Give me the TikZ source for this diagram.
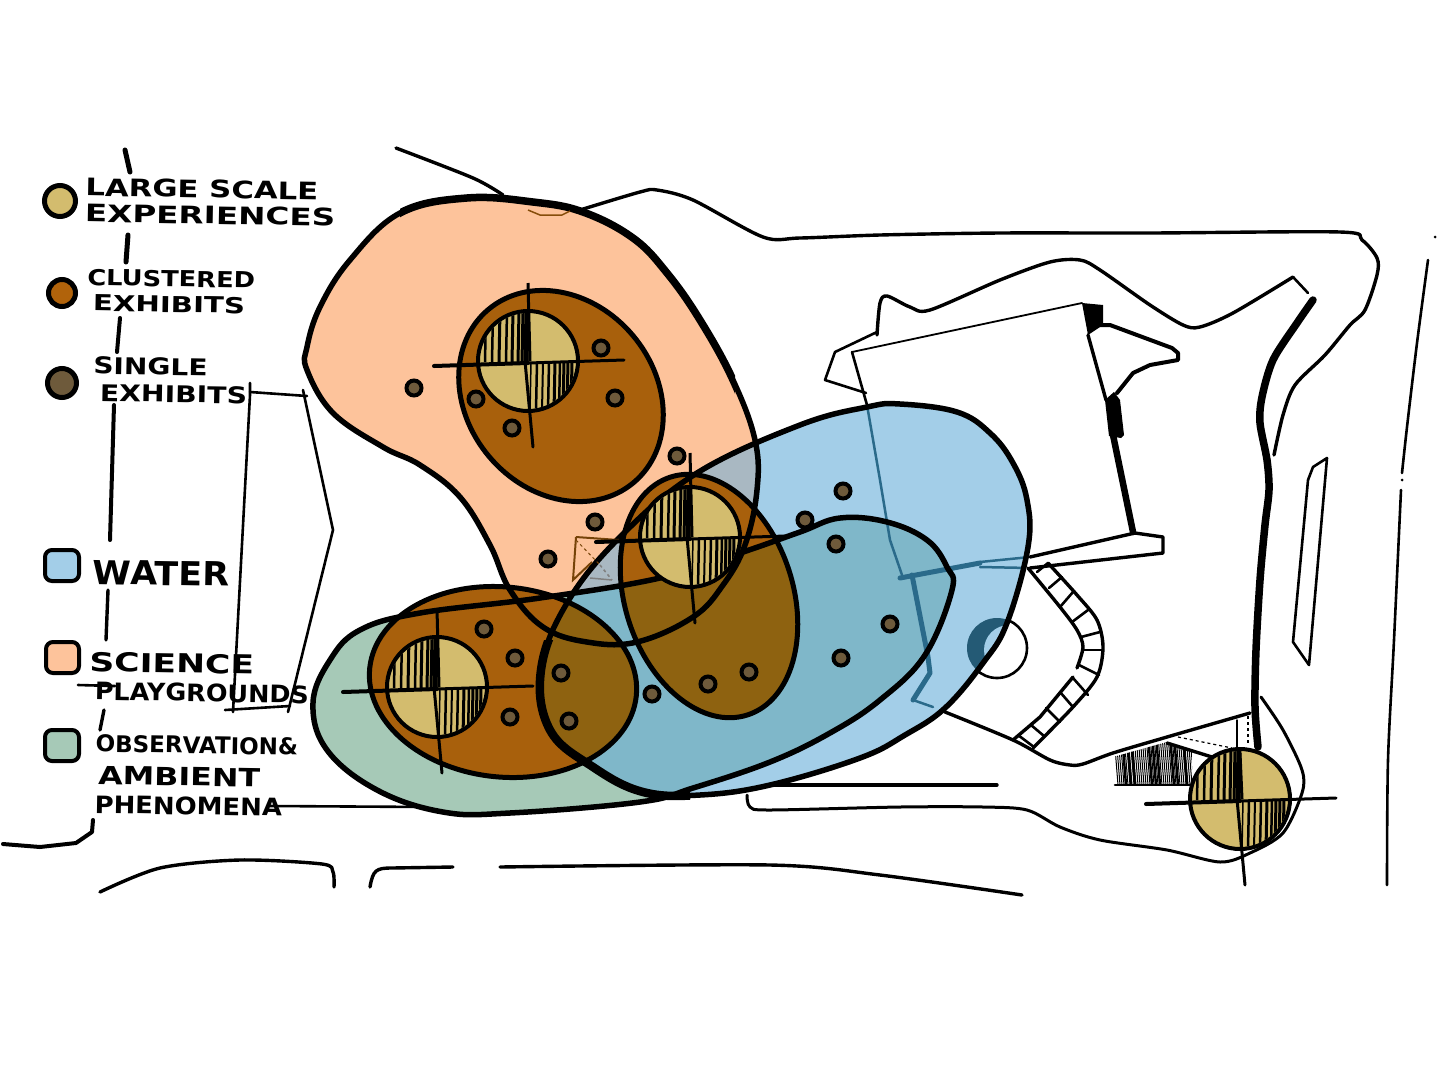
\documentclass[tikz,border=0pt]{standalone}
\usepackage{fontspec}
\setmainfont{DejaVu Sans}
\usetikzlibrary{calc}

\definecolor{sciencecol}{HTML}{FDC39B}
\definecolor{watercol}{HTML}{A3CEE8}
\definecolor{ambientcol}{HTML}{A6C9B7}
\definecolor{mixcol}{HTML}{7FB7C9}
\definecolor{greycol}{HTML}{A9B8C2}
\definecolor{clustercol}{HTML}{A8600C}
\definecolor{clusterdark}{HTML}{8E6210}
\definecolor{largecol}{HTML}{D3BC6E}
\definecolor{singlecol}{HTML}{6E5A3B}
\definecolor{tintcol}{HTML}{2A6A8A}

% Blob outlines
\newcommand{\sciencepath}{plot[smooth cycle,tension=0.65] coordinates {(307,347) (320,307) (350,260) (400,213) (467,198) (533,202) (583,212) (633,238) (667,273) (700,320) (733,380) (755,440) (757,490) (745,545) (723,585) (693,617) (637,642) (587,642) (543,627) (510,590) (490,545) (460,497) (420,465) (383,447) (333,413) (307,370)}}
\newcommand{\waterpath}{plot[smooth cycle,tension=0.65] coordinates {(800,425) (867,407) (900,404) (957,412) (990,433) (1013,463) (1027,500) (1028,547) (1007,623) (983,663) (945,708) (905,735) (860,758) (770,785) (700,795) (643,792) (593,767) (550,730) (541,670) (567,603) (620,537) (697,473)}}
\newcommand{\ambientpath}{plot[smooth cycle,tension=0.65] coordinates {(420,613) (540,598) (660,578) (740,553) (800,532) (840,518) (887,522) (927,540) (947,567) (952,590) (925,655) (880,700) (830,733) (770,762) (693,788) (640,802) (510,813) (443,812) (377,790) (327,750) (313,703) (330,660) (360,630)}}
\newcommand{\clusterA}{(561,396) ellipse [x radius=113, y radius=94, rotate=-50]}
\newcommand{\clusterB}{(709,596) ellipse [x radius=125, y radius=84, rotate=-72]}
\newcommand{\clusterC}{(503,682) ellipse [x radius=134, y radius=95, rotate=-6]}

% Hand lettering: size, stretch
\newcommand{\hand}[2]{\fontsize{#1}{#1}\selectfont\addfontfeature{FakeStretch=#2}}

% Cross-hair target, #3 is the upper arm
\newcommand{\targetmark}[3]{
  \begin{scope}[shift={(#1,#2)}]
    \draw[black, fill=largecol, line width=4pt] (0,0) circle (50);
    \begin{scope}
      \clip (0,0) circle (48);
      \foreach \h/\w in {-43/2.5,-36/2.5,-29/3,-22/2.5,-16/3,-10/3,-6/3,-2/5} {
        \draw[line width=\w pt] (\h+1,-50) -- (\h,1);
      }
      \foreach \h/\w in {3/1.5,9/2.5,15/2,21/2.5,27/3,32/2.5,36/3,40/3,44/3} {
        \draw[line width=\w pt] (\h,1) -- (\h-1,50);
      }
    \end{scope}
    \draw[black, line width=3pt] (0,-#3) -- (2,0);
    \draw[black, line width=3pt, line cap=round] (-3,0) -- (5,86);
    \draw[black, line width=4pt, line cap=round] (-94,5) -- (0,2);
    \draw[black, line width=3pt, line cap=round] (0,2) -- (96,-1);
  \end{scope}
}

\begin{document}
\begin{tikzpicture}[
    x=1pt, y=-1pt,
    sitethin/.style={black, line width=2.6pt, line cap=round, line join=round},
    sitemid/.style={black, line width=3.4pt, line cap=round, line join=round},
    sitethick/.style={black, line width=7.5pt, line cap=round, line join=round},
    blobline/.style={black, line width=5.5pt},
    clusterline/.style={black, line width=5pt},
    tintline/.style={tintcol, line width=2.5pt, line cap=round, line join=round},
    exhibitdot/.style={black, fill=singlecol, line width=4pt},
    legendtext/.style={anchor=west, inner sep=0pt, align=left, font=\bfseries, rotate=-1},
    swatch/.style={black, line width=4pt, rounded corners=7pt}
]
    \useasboundingbox (0,0) rectangle (1441,1080);

    % Left edge and left building
    \draw[sitemid, line width=5pt] (125,150) -- (130,172);
    \draw[sitemid, line width=5pt] (128,235) -- (126,262);
    \draw[sitemid, line width=4pt] (120,318) -- (117,352);
    \draw[sitemid, line width=4pt] (114,405) -- (110,540);
    \draw[sitemid] (108,590) -- (106,640);
    \draw[sitemid] (104,710) -- (100,730);
    \draw[sitemid, line width=4pt] (93,820) -- (92,832) -- (76,843) -- (40,847) -- (3,844);
    \draw[sitethin] (250,383) -- (250,395) -- (233,712);
    \draw[sitethin] (250,392) -- (307,396);
    \draw[sitethin] (303,390) -- (333,530) -- (288,712);
    \draw[sitethin] (78,685) -- (115,686);
    \draw[sitethin] (225,710) -- (290,706);
    \draw[sitethin] (270,806) -- (430,807);

    % Street edges
    \draw[sitemid] plot[smooth] coordinates {(100,892) (160,868) (240,860) (322,864) (333,872) (334,887)};
    \draw[sitemid] (370,887) .. controls (373,870) and (376,868) .. (392,868) -- (453,867);
    \draw[sitemid] plot[smooth] coordinates {(500,867) (770,865) (880,875) (1022,895)};

    % Site boundary
    \draw[sitemid] plot[smooth] coordinates {(396,148) (473,178) (503,195)};
    \draw[sitemid] plot[smooth,tension=0.5] coordinates {(580,210) (640,192) (657,190) (693,200) (763,237) (800,238) (880,235) (1000,233) (1150,233) (1340,232) (1362,240) (1377,258) (1377,275) (1365,310) (1350,325) (1325,355) (1295,385) (1283,415) (1274,455)};
    \draw[sitemid] plot[smooth,tension=0.5] coordinates {(877,335) (880,303) (887,296) (910,307) (930,310) (1000,280) (1050,262) (1080,260) (1100,270) (1150,305) (1183,325) (1200,327) (1233,313) (1293,277)};
    \draw[sitethin] (1293,277) -- (1308,293);
    \draw[sitethick] plot[smooth,tension=0.5] coordinates {(1313,300) (1297,323) (1273,360) (1262,397) (1260,423) (1267,460) (1269,490) (1265,525) (1260,580) (1256,650) (1255,707) (1258,747)};
    \draw[sitethin, line width=3pt] plot[smooth,tension=0.5] coordinates {(1261,697) (1283,730) (1302,770) (1302,793) (1283,833) (1250,853) (1220,862) (1167,850) (1100,840) (1060,827) (1027,810) (983,807) (900,807) (770,810) (750,807) (747,795)};
    \draw[sitemid] (745,785) -- (997,785);

    % Right edge
    \fill[black] (1435,237) circle (1.5);
    \fill[black] (1402,480) circle (1.5);
    \draw[sitethin] plot[smooth] coordinates {(1428,260) (1417,343) (1407,427) (1402,473)};
    \draw[sitethin] plot[smooth] coordinates {(1401,490) (1394,640) (1388,760) (1387,885)};
    \draw[sitethin] (1327,458) -- (1313,467) -- (1308,480) -- (1293,642) -- (1309,665) -- (1327,458);

    % Main building
    \draw[sitethin, line width=1.8pt] (852,352) -- (1082,303);
    \fill[black] (1082,303) -- (1103,305) -- (1103,325) -- (1088,335) -- cycle;
    \draw[sitemid] (1088,335) -- (1106,400);
    \draw[sitethick, line width=6.5pt] (1112,430) -- (1133,532);
    \fill[black] (1105,400) -- (1114,392) -- (1120,400) -- (1124,435) -- (1121,438) -- (1109,436) -- cycle;
    \draw[sitemid, line width=4pt] (1093,325) -- (1110,325) -- (1172,348) -- (1178,353) -- (1178,360) -- (1150,365) -- (1133,373) -- (1117,393);
    \draw[sitemid] (1030,557) -- (1135,533) -- (1163,537) -- (1163,553) -- (1030,568);
    \draw[sitethin] (877,332) -- (835,352) -- (825,380) -- (866,393);
    \draw[sitethin] (852,352) -- (867,405);
    \draw[sitethin] (997,648) circle (30);

    % Stairs
    \draw[sitemid] plot[smooth] coordinates {(1048,563) (1077,595) (1097,620) (1103,647) (1097,677) (1073,707) (1033,748)};
    \draw[sitemid] plot[smooth] coordinates {(1028,568) (1060,607) (1077,630) (1083,647) (1077,668)};
    \draw[sitemid] (1073,677) -- (1040,717) -- (1013,740);
    \foreach \a/\b/\c/\d in {1037/572/1048/563,1049/588/1062/577,1060/607/1073/592,1072/622/1088/610,1081/637/1100/632,1083/650/1103/650,1079/665/1099/675,1073/678/1088/695,1060/692/1073/707,1046/708/1060/722,1031/725/1044/736,1018/735/1034/747} {
      \draw[sitethin] (\a,\b) -- (\c,\d);
    }

    % Lower wall and hatched strip
    \draw[sitemid] plot[smooth,tension=0.5] coordinates {(945,712) (1013,740) (1050,760) (1070,765) (1083,764) (1113,753) (1167,737) (1250,713)};
    \draw[sitemid] (1167,743) -- (1212,757);
    \begin{scope}
      \clip (1113,757) -- (1167,742) -- (1192,752) -- (1192,785) -- (1116,785) -- cycle;
      \foreach \h in {1114,1116,...,1190} {
        \draw[black, line width=1pt] (\h,735) -- (\h+4,785);
      }
      \foreach \h in {1122,1127,1131,1148,1152,1156,1170,1174,1183} {
        \draw[black, line width=2.4pt] (\h,735) -- (\h+4,785);
      }
    \end{scope}
    \draw[sitethin] (1115,785) -- (1195,785);
    \draw[black, line width=1.2pt, dashed] (1178,737) -- (1232,748);
    \draw[sitethin, line width=1.4pt] (1237,720) -- (1237,748);
    \draw[black, line width=2pt, dashed] (1248,716) -- (1248,745);

    % Coloured areas
    \fill[sciencecol] \sciencepath;
    \fill[watercol] \waterpath;
    \fill[ambientcol] \ambientpath;
    \begin{scope}
      \clip \sciencepath;
      \clip \waterpath;
      \fill[greycol] (0,0) rectangle (1441,1080);
    \end{scope}
    \begin{scope}
      \clip \waterpath;
      \clip \ambientpath;
      \fill[mixcol] (0,0) rectangle (1441,1080);
    \end{scope}

    % Lines seen through the water
    \begin{scope}
      \clip \waterpath;
      \fill[tintcol!85!black] (997,648) circle (30);
      \fill[watercol] (1009,650) circle (25);
      \draw[tintline] (867,405) -- (880,480) -- (890,540) -- (902,575);
      \draw[tintline, line width=5pt] (900,578) -- (980,563);
      \draw[tintline] (980,562) -- (1030,557);
      \draw[tintline] (980,567) -- (1030,568);
      \draw[tintline, line width=5pt] (912,575) -- (928,657) -- (930,673) -- (913,700);
      \draw[tintline] (913,700) -- (933,707);
    \end{scope}

    % Clusters
    \fill[clustercol] \clusterA;
    \fill[clustercol] \clusterB;
    \fill[clustercol] \clusterC;
    \begin{scope}
      \clip \ambientpath;
      \clip \waterpath;
      \fill[clusterdark] \clusterB;
      \fill[clusterdark] \clusterC;
    \end{scope}

    % Outlines
    \draw[blobline] \sciencepath;
    \draw[blobline] \waterpath;
    \draw[blobline] \ambientpath;
    \begin{scope}
      \clip (530,640) rectangle (690,810);
      \draw[black, line width=8.5pt] \waterpath;
    \end{scope}
    \begin{scope}
      \clip (400,180) rectangle (735,400);
      \draw[black, line width=7.5pt] \sciencepath;
    \end{scope}
    \draw[clusterline] \clusterA;
    \draw[clusterline] \clusterB;
    \draw[clusterline] \clusterC;

    % Small pencil marks
    \draw[clustercol!80!black, line width=1.5pt] (528,210) -- (540,215) -- (562,215) -- (570,211);
    \draw[clustercol!70!black, line width=2pt] (576,537) -- (619,540);
    \draw[clustercol!70!black, line width=2pt] (576,537) -- (573,580) -- (592,562);
    \draw[clustercol!70!black, line width=1pt, dashed] (576,540) -- (600,565);
    \draw[gray, line width=1.5pt] (590,578) -- (612,580);
    \draw[gray, line width=1.5pt, dashed] (600,565) -- (612,580);

    % Targets
    \foreach \tx/\ty/\tarm in {528/361/78,690/537/84,437/687/78,1240/799/46} {
      \targetmark{\tx}{\ty}{\tarm}
    }

    % Single exhibits
    \foreach \dx/\dy in {414/388,476/399,512/428,601/348,615/398,677/456,595/522,548/559,805/520,843/491,836/544,890/624,841/658,749/672,708/684,652/694,561/673,569/721,484/629,515/658,510/717} {
      \draw[exhibitdot] (\dx,\dy) circle (7.5);
    }

    % Legend
    \draw[black, fill=largecol, line width=5pt] (60,201) circle (15.5);
    \draw[black, fill=clustercol!90!orange, line width=5pt] (62,293) circle (13.5);
    \draw[black, fill=singlecol, line width=5pt] (62,383) circle (14.5);
    \draw[swatch, fill=watercol] (45,550) rectangle (79,581);
    \draw[swatch, fill=sciencecol] (46,642) rectangle (79,673);
    \draw[swatch, fill=ambientcol] (45,730) rectangle (79,761);

    \node[legendtext] (largelabel) at (85,200) {\hand{24}{1.28}LARGE SCALE\\[7pt]\hand{24}{1.36}EXPERIENCES};
    \node[legendtext] (clusterlabel) at (87,290) {\hand{22}{1.17}CLUSTERED\\[8pt]\hspace{6pt}\hand{22}{1.33}EXHIBITS};
    \node[legendtext] (singlelabel) at (93,379) {\hand{23}{1.22}SINGLE\\[9pt]\hspace{7pt}\hand{23}{1.23}EXHIBITS};
    \node[legendtext] (waterlabel) at (93,572) {\hand{33}{1.06}WATER};
    \node[legendtext] (sciencelabel) at (89,676) {\hand{26}{1.33}SCIENCE\\[9pt]\hspace{6pt}\hand{24}{1.06}PLAYGROUNDS};
    \node[legendtext] (ambientlabel) at (95,774) {\hand{23}{1.0}OBSERVATION\&\\[13pt]\hspace{3pt}\hand{25}{1.27}AMBIENT\\[10pt]\hand{24}{1.08}PHENOMENA};
\end{tikzpicture}
\end{document}
